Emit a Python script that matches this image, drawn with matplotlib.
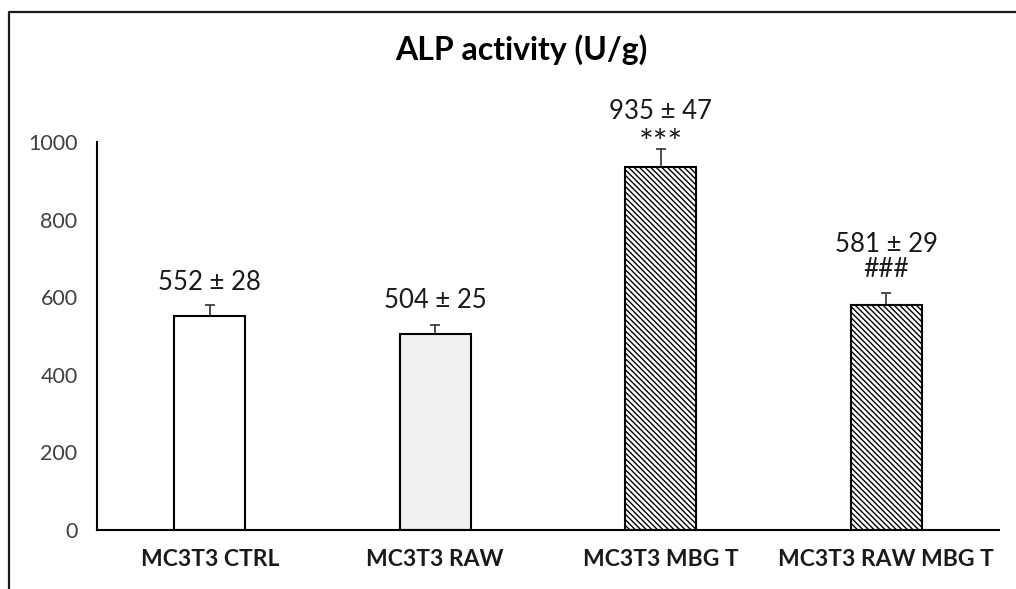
import matplotlib.pyplot as plt
from matplotlib.lines import Line2D
import numpy as np

# data
groups = ['MC3T3 CTRL', 'MC3T3 RAW', 'MC3T3 MBG T', 'MC3T3 RAW MBG T']
alp = [552, 504, 935, 581]
sd = [28, 25, 47, 29]
marks = ['', '', '***', '###']
yticks = [0, 200, 400, 600, 800, 1000]

fills = ['white', '#f0f0f0', 'white', 'white']
hatches = [None, None, '\\\\\\\\\\\\', '\\\\\\\\\\\\']
# label offsets above the error cap (points)
value_gap = [11, 12, 21.5, 30]
mark_gap = [0, 0, -3.5, 11.5]
mark_size = [0, 0, 25, 19]

plt.rcParams['font.family'] = ['Lato', 'DejaVu Sans']
plt.rcParams['hatch.linewidth'] = 1.0

fig = plt.figure(figsize=(10.16, 5.89), dpi=100)
ax = fig.add_axes([97/1016, 1 - 530/589, (999 - 97)/1016, (530 - 142)/589])

x = np.arange(len(groups))
bars = ax.bar(x, alp, width=0.315, color=fills, edgecolor='black', linewidth=1.5,
              zorder=2)
for b, h in zip(bars, hatches):
    if h:
        b.set_hatch(h)

ax.errorbar(x, alp, yerr=[np.zeros(len(sd)), sd], fmt='none', ecolor='#404040',
            elinewidth=1.3, capsize=3.6, capthick=1.3, zorder=1)

# labels over the bars
for i in range(len(groups)):
    top = alp[i] + sd[i]
    ax.annotate(f'{alp[i]} ± {sd[i]}', (x[i], top), xytext=(0, value_gap[i]),
                textcoords='offset points', ha='center', va='baseline',
                fontsize=18.5, color='#1a1a1a')
    if marks[i]:
        ax.annotate(marks[i], (x[i], top), xytext=(0, mark_gap[i]),
                    textcoords='offset points', ha='center', va='baseline',
                    fontsize=mark_size[i], color='#1a1a1a')

ax.set_xlim(-0.5, len(groups) - 0.5)
ax.set_ylim(0, 1000)
ax.set_yticks(yticks)
ax.set_xticks(x)
ax.set_xticklabels(groups, fontweight='bold', fontsize=16.5)
ax.tick_params(axis='y', length=0, pad=14, labelsize=15.5, labelcolor='#404040')
ax.tick_params(axis='x', length=0, pad=14, labelcolor='#1a1a1a')

for s in ['top', 'right']:
    ax.spines[s].set_visible(False)
ax.spines['left'].set_linewidth(1.5)
ax.spines['bottom'].set_linewidth(1.5)

fig.text(521/1016, 1 - 60/589, 'ALP activity (U/g)', ha='center', va='baseline',
         fontsize=23, fontweight='bold')

# outer frame (only top and left edges are visible)
fig.add_artist(Line2D([9/1016, 9/1016, 1.0], [0, 1 - 12/589, 1 - 12/589],
                      transform=fig.transFigure, color='#1a1a1a', linewidth=1.6))

plt.savefig('out.png', dpi=100)
